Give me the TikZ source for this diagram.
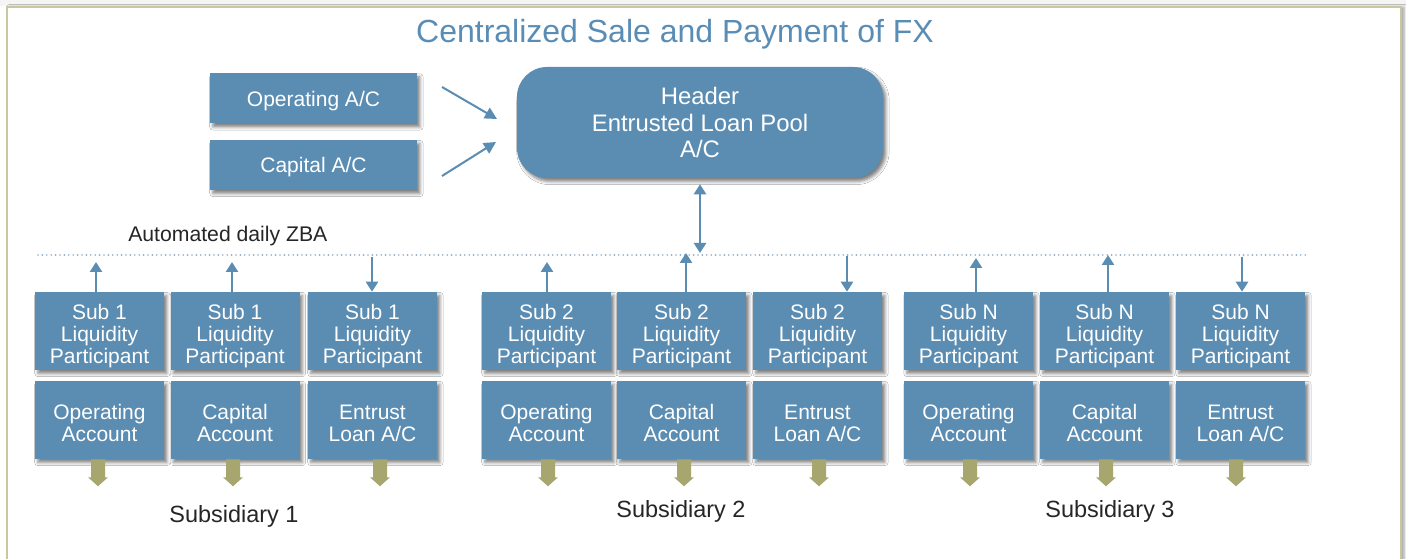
\documentclass[tikz,border=0pt]{standalone}
\usepackage{fontspec}
\setmainfont{Liberation Sans}
\usetikzlibrary{arrows.meta,shadows.blur}
\definecolor{boxblue}{HTML}{5B8DB3}
\definecolor{titleblue}{HTML}{5A8DB5}
\definecolor{flowolive}{HTML}{A6A66E}
\definecolor{framekhaki}{HTML}{C9C79E}
\definecolor{dotblue}{HTML}{90AAC6}
\definecolor{labelgrey}{HTML}{262626}

% multi-line card text, padded on top so the lettering sits centred in the box
\newcommand{\cardlines}[1]{\raisebox{0pt}[\dimexpr\height+9pt\relax][\depth]{%
  \begin{tabular}{@{}c@{}}#1\end{tabular}}}

\begin{document}
\begin{tikzpicture}[x=0.75pt,y=-0.75pt,
  card/.style={fill=boxblue, text=white, inner sep=0pt,
    blur shadow={shadow xshift=2.2pt, shadow yshift=-2.6pt,
      shadow blur radius=2.4pt, shadow opacity=50}},
  acct/.style={card, minimum width=96.75pt, minimum height=58.5pt,
    font=\fontsize{15.75}{16.5}\selectfont},
  source/.style={card, minimum width=155.25pt, minimum height=37.5pt,
    text height=11.3pt, text depth=0pt, font=\fontsize{15.75}{18}\selectfont},
  pool/.style={card, align=center, rounded corners=22.5pt, minimum width=274.5pt,
    minimum height=83.25pt, font=\fontsize{17.9}{19.9}\selectfont},
  feed/.style={draw=boxblue, line width=2pt, -{Triangle[width=9pt,length=7.5pt]}},
  inflow/.style={draw=boxblue, line width=1.5pt, -{Triangle[width=9pt,length=9pt]}},
  sublabel/.style={text=labelgrey, inner sep=0pt, text height=12.6pt, text depth=0pt,
    font=\fontsize{17.6}{20}\selectfont},
  sink/.pic={\fill[flowolive] (-7,0) -- (-7,18) -- (-10,18) -- (0,27)
    -- (10,18) -- (7,18) -- (7,0) -- cycle;}
]
\clip (0,0) rectangle (1406,559);
\fill[white] (0,0) rectangle (1406,559);
\fill[black!4] (0,0) rectangle (1406,6);

% page frame
\draw[framekhaki, line width=1.5pt, fill=white,
  blur shadow={shadow xshift=2.5pt, shadow yshift=0pt,
    shadow blur radius=2pt, shadow opacity=35}]
  (6.5,7) rectangle (1401,590);

% title
\node[text=titleblue, inner sep=0pt, text height=17.2pt, text depth=0pt,
  font=\fontsize{24}{28}\selectfont] (title) at (675,31.5)
  {Centralized Sale and Payment of FX};

% header pool and its two feeding accounts
\node[pool] (pool) at (700,122.5) {Header\\Entrusted Loan Pool\\A/C};
\node[source] (opac) at (313.5,98.5) {Operating A/C};
\node[source] (capac) at (313.5,165) {Capital A/C};

\coordinate (in1s) at (442,87);
\coordinate (in1e) at (497,119);
\coordinate (in2s) at (442,176);
\coordinate (in2e) at (496,142);
\draw[inflow] (in1s) -- (in1e);
\draw[inflow] (in2s) -- (in2e);

% ZBA sweep line
\coordinate (zbaL) at (38,255);
\coordinate (zbaR) at (1308,255);
\draw[dotblue, line width=1.4pt, line cap=round, dash pattern=on 0pt off 3.3pt]
  (zbaL) -- (zbaR);
\node[anchor=west, text=labelgrey, inner sep=0pt, text height=11.4pt, text depth=0pt,
  font=\fontsize{15.9}{18}\selectfont] (zbalabel) at (128,233.5) {Automated daily ZBA};

\coordinate (hub) at (700,253);
\draw[feed, {Triangle[width=9pt,length=7.5pt]}-{Triangle[width=9pt,length=7.5pt]}]
  ([yshift=-4.5pt]pool.south) -- (hub);

% participant accounts (row 1) and underlying accounts (row 2)
\foreach \n/\x/\lbl in {11/99.5/1,12/235/1,13/372.5/1,
                        21/546.5/2,22/681.5/2,23/817.5/2,
                        31/968.5/N,32/1104.5/N,33/1240.5/N}{
  \node[acct] (p\n) at (\x,331) {\cardlines{Sub \lbl\\Liquidity\\Participant}};
}
\node[acct] (a11) at (99.5,420) {\cardlines{Operating\\Account}};
\node[acct] (a12) at (235,420) {\cardlines{Capital\\Account}};
\node[acct] (a13) at (372.5,420) {\cardlines{Entrust\\Loan A/C}};
\node[acct] (a21) at (546.5,420) {\cardlines{Operating\\Account}};
\node[acct] (a22) at (681.5,420) {\cardlines{Capital\\Account}};
\node[acct] (a23) at (817.5,420) {\cardlines{Entrust\\Loan A/C}};
\node[acct] (a31) at (968.5,420) {\cardlines{Operating\\Account}};
\node[acct] (a32) at (1104.5,420) {\cardlines{Capital\\Account}};
\node[acct] (a33) at (1240.5,420) {\cardlines{Entrust\\Loan A/C}};

% sweep arrows between participants and the ZBA line
\coordinate (t11) at (96,262);
\coordinate (t12) at (232,262);
\coordinate (t13) at (372,257);
\coordinate (t21) at (547,262);
\coordinate (t22) at (686,253);
\coordinate (t23) at (847,256);
\coordinate (t31) at (976,258);
\coordinate (t32) at (1108,255);
\coordinate (t33) at (1242,257);
\foreach \n in {11,12,21,22,31,32}{
  \draw[feed] (t\n |- p\n.north) -- (t\n);
}
\foreach \n in {13,23,33}{
  \draw[feed] (t\n) -- (t\n |- p\n.north);
}

% outflows below the underlying accounts
\path (a11.south) ++(-1.5,0) pic {sink};
\path (a12.south) ++(-2,0) pic {sink};
\path (a13.south) ++(7.5,0) pic {sink};
\path (a21.south) ++(1.5,0) pic {sink};
\path (a22.south) ++(2.5,0) pic {sink};
\path (a23.south) ++(1.5,0) pic {sink};
\path (a31.south) ++(1.5,0) pic {sink};
\path (a32.south) ++(1.5,0) pic {sink};
\path (a33.south) ++(-4.5,0) pic {sink};

% subsidiary captions
\node[sublabel] (sub1) at (234,514) {Subsidiary 1};
\node[sublabel] (sub2) at (681,509.5) {Subsidiary 2};
\node[sublabel] (sub3) at (1110,509.5) {Subsidiary 3};
\end{tikzpicture}
\end{document}
